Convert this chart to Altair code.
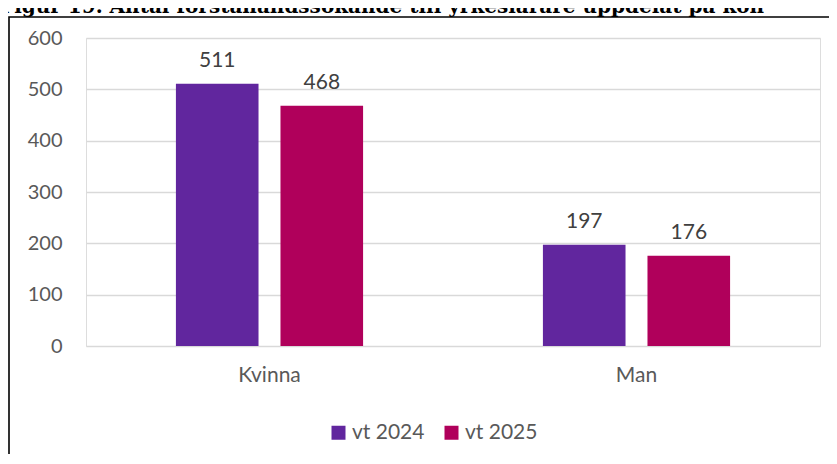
import altair as alt
import pandas as pd

title_text = "Figur 19. Antal förstahandssökande till yrkeslärare uppdelat på kön"
categories = ["Kvinna", "Man"]
series = ["vt 2024", "vt 2025"]
vt2024 = [511, 197]
vt2025 = [468, 176]
colors = ["#61269E", "#B0005B"]
y_ticks = [0, 100, 200, 300, 400, 500, 600]

rows = []
for s, vals in zip(series, [vt2024, vt2025]):
    for c, v in zip(categories, vals):
        rows.append({"kon": c, "termin": s, "antal": v})
df = pd.DataFrame(rows)

x_enc = alt.X("kon:N", sort=categories, title=None,
              scale=alt.Scale(paddingInner=0.49, paddingOuter=0.245),
              axis=alt.Axis(labelAngle=0, domain=False, ticks=False, labelPadding=18,
                            labelFont="Lato", labelFontSize=21, labelColor="#595959"))
xoff_enc = alt.XOffset("termin:N", sort=series,
                       scale=alt.Scale(paddingInner=0.21, paddingOuter=0))
y_enc = alt.Y("antal:Q", title=None,
              scale=alt.Scale(domain=[0, 600], nice=False),
              axis=alt.Axis(values=y_ticks, domain=False, ticks=False, labelPadding=24,
                            labelFont="Lato", labelFontSize=20, labelColor="#595959",
                            gridColor="#d9d9d9", gridWidth=1.5))

base = alt.Chart(df)

bars = base.mark_bar().encode(
    x=x_enc,
    xOffset=xoff_enc,
    y=y_enc,
    color=alt.Color("termin:N", sort=series,
                    scale=alt.Scale(domain=series, range=colors),
                    legend=alt.Legend(title=None, orient="none", direction="horizontal",
                                      legendX=242, legendY=384, symbolType="square",
                                      symbolSize=196, symbolStrokeWidth=0,
                                      labelFont="Lato", labelFontSize=21,
                                      labelColor="#595959", columnPadding=16,
                                      labelOffset=3, padding=0)),
)

labels = base.mark_text(baseline="alphabetic", dy=-17, font="Lato", fontSize=21,
                        color="#404040").encode(
    x=alt.X("kon:N", sort=categories),
    xOffset=alt.XOffset("termin:N", sort=series),
    y=alt.Y("antal:Q"),
    text=alt.Text("antal:Q"),
)

frame = alt.Chart(pd.DataFrame({"f": [0]})).mark_rect(
    fill="white", fillOpacity=0, stroke="black", strokeWidth=1.6
).encode(
    x=alt.value(-77), x2=alt.value(900),
    y=alt.value(-21), y2=alt.value(600),
)

title_mark = alt.Chart(pd.DataFrame({"t": [title_text]})).mark_text(
    align="left", baseline="alphabetic", font="DejaVu Serif", fontSize=20,
    fontWeight="bold", color="black"
).encode(
    text=alt.Text("t:N"),
    x=alt.value(-86), y=alt.value(-25),
)

chart = alt.layer(frame, title_mark, bars, labels).properties(
    width=734,
    height=308,
    autosize=alt.AutoSizeParams(type="none"),
    padding={"left": 78, "top": 30, "right": 9, "bottom": 108},
).configure_view(strokeWidth=0).configure(background="white")

chart.save("out.html", embed_options={"renderer": "svg", "actions": False})
